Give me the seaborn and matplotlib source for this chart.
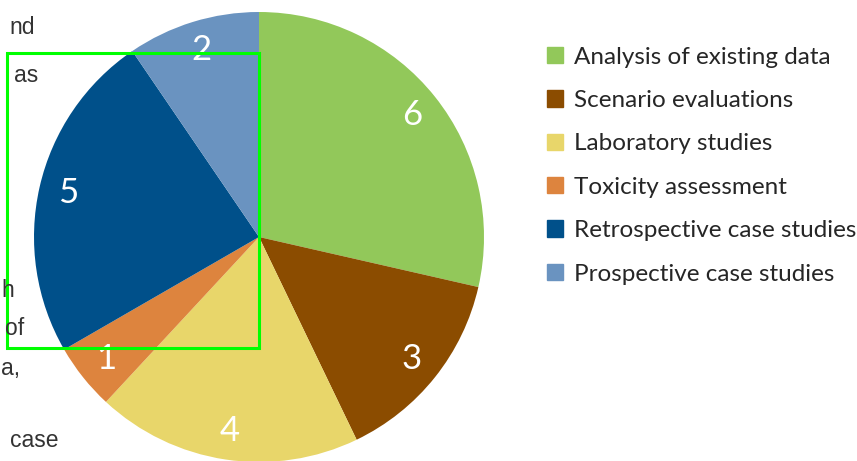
import matplotlib
matplotlib.use("Agg")
import matplotlib.pyplot as plt
import matplotlib.patches as mpatches
import seaborn as sns

# Datos del gráfico
categorias = ["Analysis of existing data", "Scenario evaluations", "Laboratory studies",
              "Toxicity assessment", "Retrospective case studies", "Prospective case studies"]
valores = [6, 3, 4, 1, 5, 2]
colores = ["#92C85A", "#8B4C00", "#E8D66A", "#DD843E", "#00508A", "#6A93C0"]

# Fragmentos de texto recortados a la izquierda de la captura
fragmentos = ["nd", "as", "h", "of", "a,", "case"]
fragmentos_pos = [(9, 28), (14, 75), (1, 290), (5, 328), (1, 368), (10, 440)]

sns.set_theme(style="white")
plt.rcParams['font.family'] = ['Lato', 'DejaVu Sans']

W, H = 857, 461
fig = plt.figure(figsize=(W / 100, H / 100), dpi=100)

# Ejes del pastel (centro ~ (259, 237), radio ~225 px)
ax = fig.add_axes([34 / W, (H - 462) / H, 450 / W, 450 / H])
wedges, textos = ax.pie(valores, colors=colores, startangle=90, counterclock=False,
                        labels=[str(v) for v in valores], labeldistance=0.87,
                        wedgeprops=dict(linewidth=0),
                        textprops=dict(color="white", fontsize=25, ha="center", va="center"))
ax.set_xlim(-1, 1)
ax.set_ylim(-1, 1)
ax.set_aspect("equal")
ax.axis("off")

# Leyenda
handles = [mpatches.Patch(color=c, label=l) for c, l in zip(colores, categorias)]
fig.legend(handles=handles, loc="upper left", bbox_to_anchor=(537 / W, 1 - 37 / H),
           frameon=False, fontsize=17.5, handlelength=0.66, handleheight=0.66,
           handletextpad=0.45, labelspacing=0.92, borderaxespad=0)

# Texto recortado
for txt, (x, y) in zip(fragmentos, fragmentos_pos):
    fig.text(x / W, 1 - y / H, txt, fontsize=16.5, color="#333333", va="center", ha="left",
             family=["Liberation Sans", "DejaVu Sans"])

# Rectángulo verde
rect = mpatches.Rectangle((7 / W, 1 - 348 / H), 252 / W, 295 / H, transform=fig.transFigure,
                          fill=False, edgecolor="#00FF00", linewidth=2.2)
fig.patches.append(rect)

fig.savefig("out.png", dpi=100)
